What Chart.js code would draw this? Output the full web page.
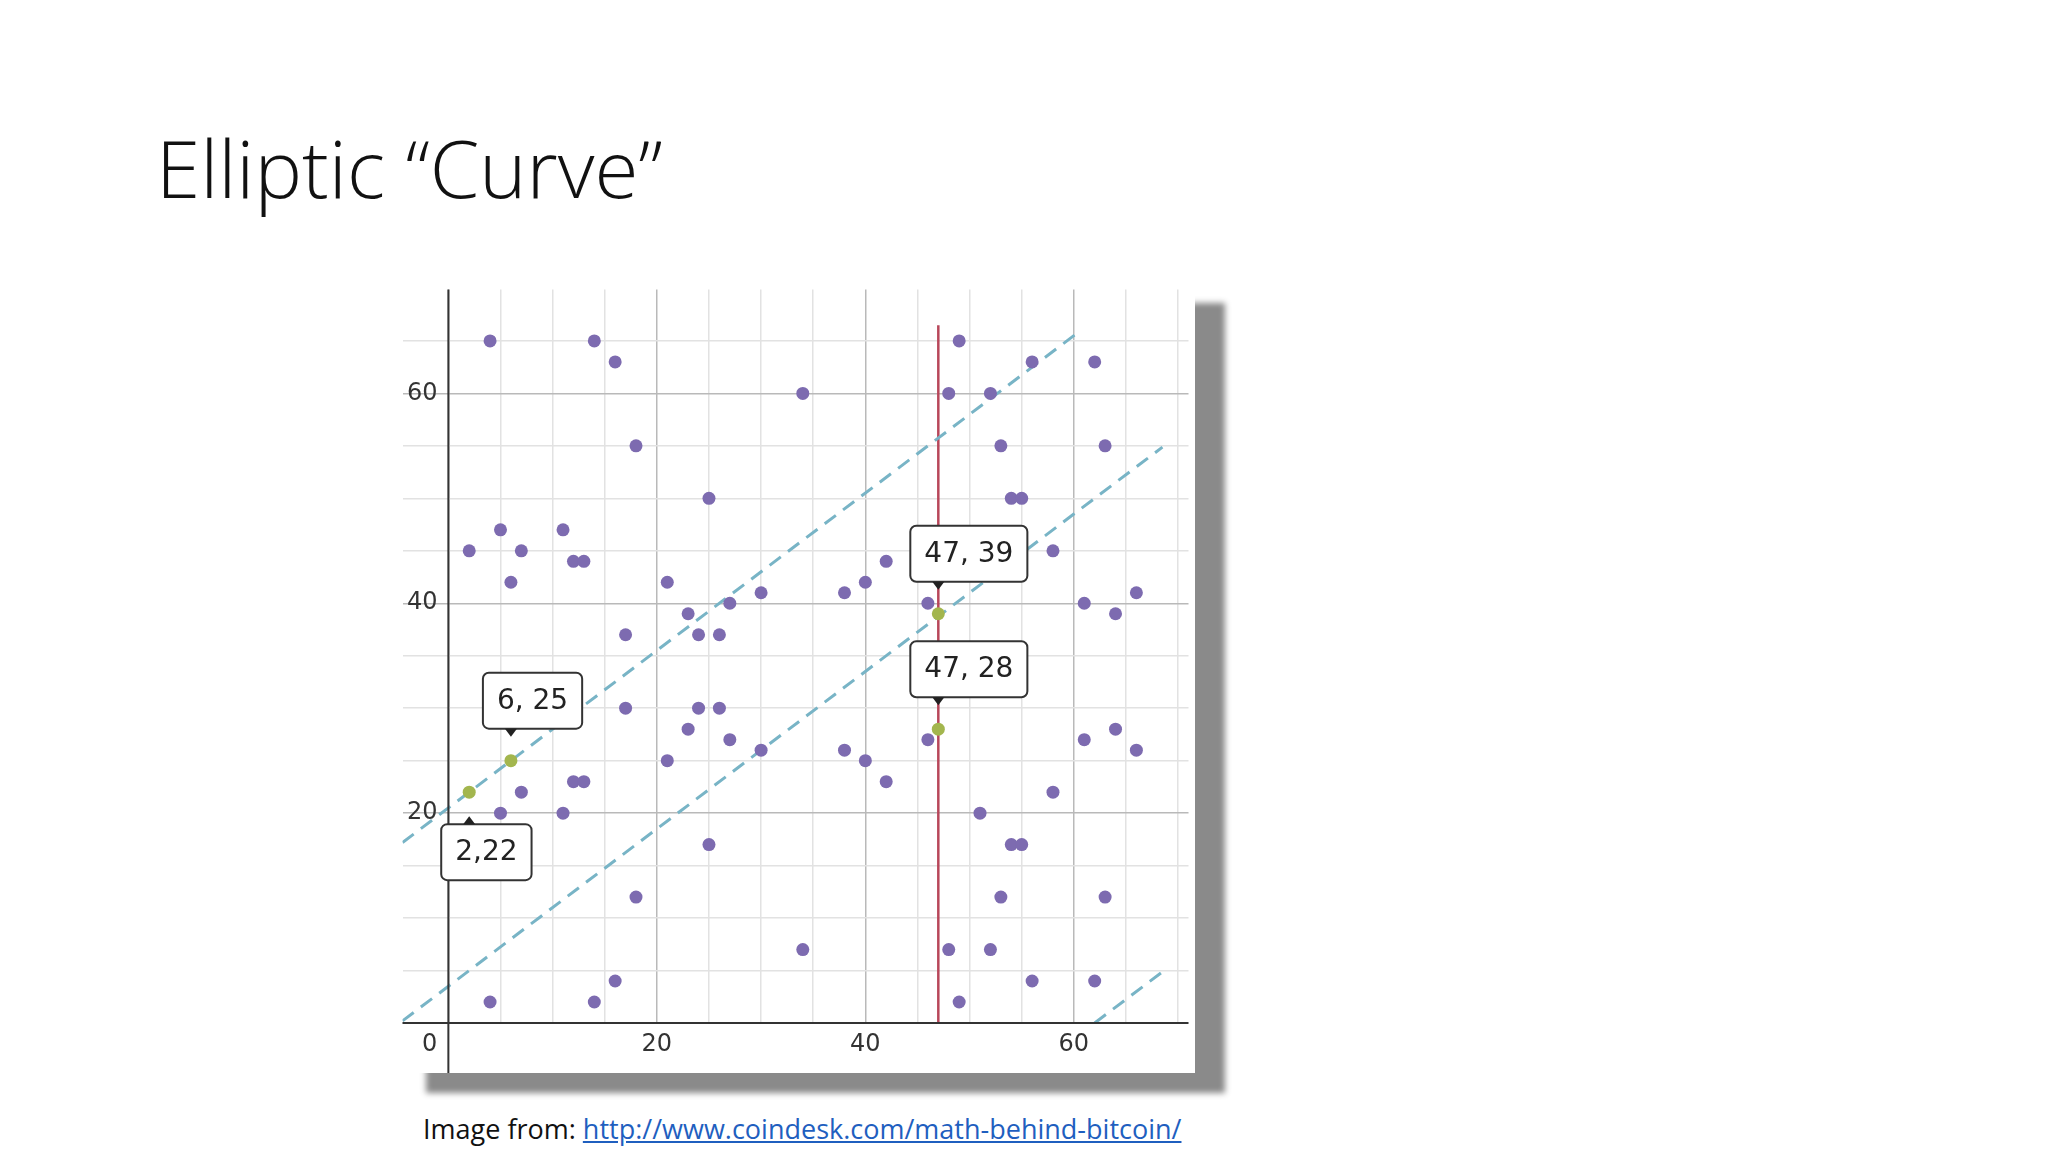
<!DOCTYPE html>
<html>
<head>
<meta charset="utf-8">
<script src="https://cdn.jsdelivr.net/npm/chart.js@4/dist/chart.umd.min.js"></script>
<style>
  body { margin: 0; width: 2048px; height: 1152px; background: #fff; position: relative; overflow: hidden; font-family: "Open Sans", sans-serif; }
  #title { position: absolute; left: 156px; top: 112px; font-size: 80px; font-weight: 300; color: #111; margin: 0; }
  #box { position: absolute; left: 396px; top: 283px; width: 799px; height: 790px; background: #fff;
         box-shadow: 30px 20px 6px #8a8a8a; }
  #caption { position: absolute; left: 423px; top: 1110px; font-size: 27px; color: #111; }
  #caption a { color: #1f5fbf; text-decoration: underline; }
</style>
</head>
<body>
<h1 id="title">Elliptic “Curve”</h1>
<div id="box"><canvas id="curveChart" width="799" height="790"></canvas></div>
<div id="caption">Image from: <a href="#">http://www.coindesk.com/math-behind-bitcoin/</a></div>
<script>
// points on y^2 = x^3 + 7 (mod 67)
const curveX = [4, 4, 2, 5, 6, 7, 7, 5, 11, 12, 13, 11, 12, 13, 14, 14, 16, 16, 17, 17, 18, 18,
  21, 21, 23, 23, 24, 24, 25, 25, 26, 26, 27, 27, 30, 30, 34, 34, 38, 38, 40, 40, 42, 42, 46, 46,
  48, 48, 49, 49, 51, 52, 52, 53, 53, 54, 55, 54, 55, 56, 56, 58, 58, 61, 61, 62, 62, 63, 63, 64, 64, 66, 66];
const curveY = [65, 2, 45, 47, 42, 45, 22, 20, 47, 44, 44, 20, 23, 23, 65, 2, 63, 4, 37, 30, 55, 12,
  42, 25, 39, 28, 37, 30, 50, 17, 37, 30, 40, 27, 41, 26, 60, 7, 41, 26, 42, 25, 44, 23, 40, 27,
  60, 7, 65, 2, 20, 60, 7, 55, 12, 50, 50, 17, 17, 63, 4, 45, 22, 40, 27, 63, 4, 55, 12, 39, 28, 41, 26];
const markedX = [2, 6, 47, 47];
const markedY = [22, 25, 39, 28];
const markedLabels = ["2,22", "6, 25", "47, 39", "47, 28"];
const markedBelow = [true, false, false, false];
// dashed lines: slope 0.75, intercepts, x extents
const lineSlope = 0.75;
const lineIntercepts = [20.5, 3.5, -46.5];
const lineFromX = [-4.4, -4.4, 62];
const lineToX = [60.6, 68.5, 68.5];
const verticalX = 47;
const verticalTop = 66.5;
const tickValues = [20, 40, 60];

const purple = "#7d6bb0";
const lineDatasets = lineIntercepts.map((c, i) => ({
  type: "line",
  data: [lineFromX[i], lineToX[i]].map((x) => ({ x: x, y: lineSlope * x + c })),
  borderColor: "#78b4c6", borderWidth: 3, borderDash: [14, 9], pointRadius: 0, order: 3,
}));

const overlay = {
  id: "overlay",
  afterDatasetsDraw(chart) {
    const ctx = chart.ctx, xs = chart.scales.x, ys = chart.scales.y, a = chart.chartArea;
    ctx.save();
    // axes
    ctx.strokeStyle = "#333"; ctx.lineWidth = 2;
    ctx.beginPath();
    ctx.moveTo(xs.getPixelForValue(0), a.top); ctx.lineTo(xs.getPixelForValue(0), a.bottom + 50);
    ctx.moveTo(a.left, ys.getPixelForValue(0)); ctx.lineTo(a.right, ys.getPixelForValue(0));
    ctx.stroke();
    // tick labels
    ctx.fillStyle = "#333"; ctx.font = "24px 'DejaVu Sans', sans-serif";
    ctx.textAlign = "center"; ctx.textBaseline = "middle";
    tickValues.forEach((v) => {
      ctx.fillText(String(v), xs.getPixelForValue(v), ys.getPixelForValue(0) + 22);
      ctx.fillText(String(v), xs.getPixelForValue(-2.5), ys.getPixelForValue(v));
    });
    ctx.fillText("0", xs.getPixelForValue(-1.8), ys.getPixelForValue(0) + 22);
    // labels
    ctx.font = "28px 'DejaVu Sans', sans-serif";
    markedLabels.forEach((t, i) => {
      const px = xs.getPixelForValue(markedX[i]), py = ys.getPixelForValue(markedY[i]);
      const w = ctx.measureText(t).width + 28, h = 56;
      const bx = px - 28;
      const by = markedBelow[i] ? py + 32 : py - 32 - h;
      ctx.fillStyle = "#fff"; ctx.strokeStyle = "#333"; ctx.lineWidth = 2;
      ctx.beginPath(); ctx.roundRect(bx, by, w, h, 6); ctx.fill(); ctx.stroke();
      ctx.fillStyle = "#222";
      ctx.beginPath();
      if (markedBelow[i]) { ctx.moveTo(px - 6, by); ctx.lineTo(px + 6, by); ctx.lineTo(px, by - 8); }
      else { ctx.moveTo(px - 6, by + h); ctx.lineTo(px + 6, by + h); ctx.lineTo(px, by + h + 8); }
      ctx.fill();
      ctx.textAlign = "left";
      ctx.fillText(t, bx + 14, by + h / 2 + 1);
    });
    ctx.restore();
  },
};

new Chart(document.getElementById("curveChart").getContext("2d"), {
  type: "scatter",
  data: {
    datasets: [
      { data: curveX.map((x, i) => ({ x: x, y: curveY[i] })), backgroundColor: purple, borderWidth: 0, pointRadius: 6.5, order: 2 },
      { data: markedX.map((x, i) => ({ x: x, y: markedY[i] })), backgroundColor: "#a3b64e", borderWidth: 0, pointRadius: 6.5, order: 1 },
      { type: "line", data: [{ x: verticalX, y: 0 }, { x: verticalX, y: verticalTop }], borderColor: "#b8475a", borderWidth: 2.5, pointRadius: 0, order: 4 },
      ...lineDatasets,
    ],
  },
  options: {
    responsive: false, animation: false, events: [],
    layout: { padding: { left: 0, right: 0, top: 0, bottom: 50 } },
    plugins: { legend: { display: false }, tooltip: { enabled: false } },
    scales: {
      x: {
        type: "linear", min: -4.4, max: 71,
        ticks: { display: false, stepSize: 5 },
        afterBuildTicks: (s) => { s.ticks = []; for (let v = 0; v <= 70; v += 5) s.ticks.push({ value: v }); },
        grid: { drawTicks: false, color: (c) => (c.tick.value % 20 === 0 ? "#b9b9b9" : "#e2e2e2"), lineWidth: 1.5 },
        border: { display: false },
      },
      y: {
        type: "linear", min: 0, max: 69.9,
        ticks: { display: false },
        afterBuildTicks: (s) => { s.ticks = []; for (let v = 5; v <= 65; v += 5) s.ticks.push({ value: v }); },
        grid: { drawTicks: false, color: (c) => (c.tick.value % 20 === 0 ? "#b9b9b9" : "#e2e2e2"), lineWidth: 1.5 },
        border: { display: false },
      },
    },
  },
  plugins: [overlay],
});
</script>
</body>
</html>
